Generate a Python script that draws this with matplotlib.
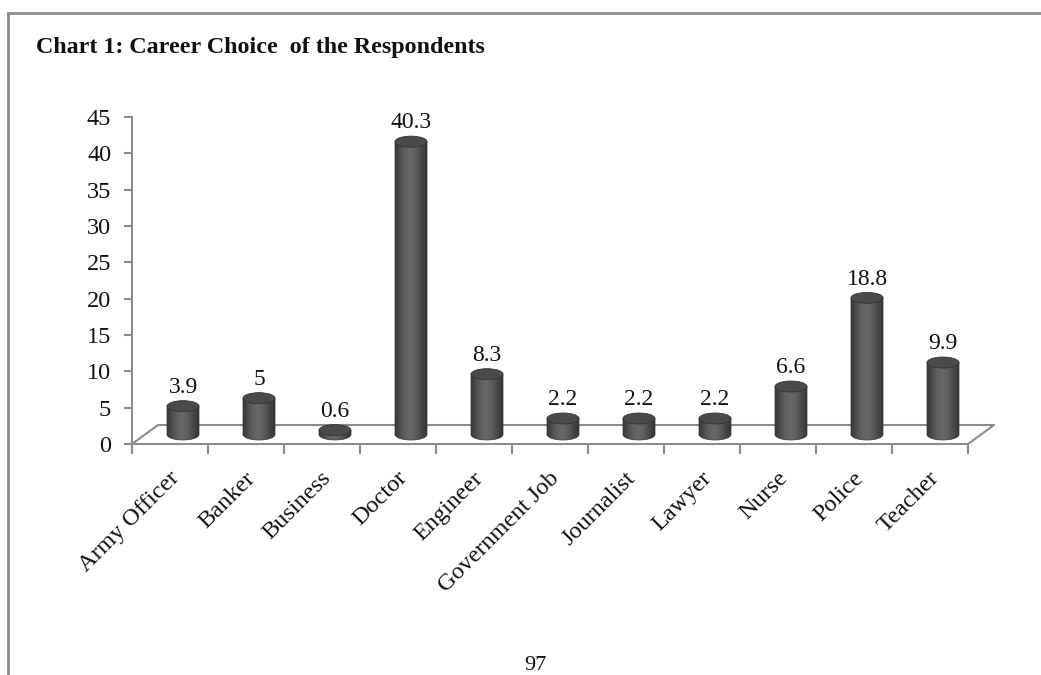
import matplotlib
matplotlib.use("Agg")
import matplotlib.pyplot as plt
import numpy as np
from matplotlib.patches import Ellipse, PathPatch
from matplotlib.path import Path

categories = ["Army Officer", "Banker", "Business", "Doctor", "Engineer",
              "Government Job", "Journalist", "Lawyer", "Nurse", "Police", "Teacher"]
values = [3.9, 5, 0.6, 40.3, 8.3, 2.2, 2.2, 2.2, 6.6, 18.8, 9.9]
value_labels = ["3.9", "5", "0.6", "40.3", "8.3", "2.2", "2.2", "2.2", "6.6", "18.8", "9.9"]
yticks = [0, 5, 10, 15, 20, 25, 30, 35, 40, 45]
title = "Chart 1: Career Choice  of the Respondents"
page_number = "97"

W, H = 1041, 675
fig = plt.figure(figsize=(W / 100, H / 100), dpi=100)
fig.patch.set_facecolor("white")

serif = ["Liberation Serif", "DejaVu Serif"]

# axes placement in pixels
x0, x1 = 132, 968
y0, y1 = 444, 117
ax = fig.add_axes([x0 / W, (H - y0) / H, (x1 - x0) / W, (y0 - y1) / H])
n = len(categories)
ax.set_xlim(0, n)
ax.set_ylim(0, 45)
for s in ax.spines.values():
    s.set_visible(False)
ax.patch.set_alpha(0)

px_x = n / (x1 - x0)       # data units per pixel (x)
px_y = 45 / (y0 - y1)      # data units per pixel (y)
depth_dx = 26 * px_x
depth_dy = 19 * px_y

axis_col = "#8c8c8c"
# value axis
ax.plot([0, 0], [0, 45], color=axis_col, lw=1.5, clip_on=False, zorder=1)
ax.set_yticks(yticks)
ax.set_yticklabels([str(t) for t in yticks], fontsize=17.5, family=serif, color="#111111")
ax.tick_params(axis="y", direction="out", length=6, color=axis_col, width=1.5, pad=9)
# floor
floor_x = [0, depth_dx, n + depth_dx, n, 0]
floor_y = [0, depth_dy, depth_dy, 0, 0]
ax.plot(floor_x, floor_y, color=axis_col, lw=1.5, clip_on=False, zorder=1)
ax.set_xticks(np.arange(n + 1))
ax.set_xticklabels([])
ax.tick_params(axis="x", direction="out", length=7, color=axis_col, width=1.5)

# cylinders
bw = 32 * px_x
eh = 11 * px_y
cmap = matplotlib.colors.LinearSegmentedColormap.from_list(
    "cyl", ["#373737", "#4f4f4f", "#626262", "#686868", "#5c5c5c", "#474747", "#353535"])
grad = np.linspace(0, 1, 64).reshape(1, -1)
for i, v in enumerate(values):
    cx = i + 0.5 + depth_dx / 2
    base = depth_dy / 2
    top = base + v
    left, right = cx - bw / 2, cx + bw / 2
    t = np.linspace(np.pi, 2 * np.pi, 40)
    bx = cx + (bw / 2) * np.cos(t)
    by = base + (eh / 2) * np.sin(t)
    verts = [(left, top)] + list(zip(bx, by)) + [(right, top), (left, top)]
    codes = [Path.MOVETO] + [Path.LINETO] * (len(verts) - 2) + [Path.CLOSEPOLY]
    body = PathPatch(Path(verts, codes), facecolor="none", edgecolor="none", zorder=3)
    ax.add_patch(body)
    im = ax.imshow(grad, cmap=cmap, extent=[left, right, base - eh, top],
                   aspect="auto", zorder=3, interpolation="bilinear")
    im.set_clip_path(body)
    ax.add_patch(PathPatch(Path(verts, codes), facecolor="none",
                           edgecolor="#333333", lw=0.5, zorder=3.5))
    ax.add_patch(Ellipse((cx, top), bw, eh, angle=0, facecolor="#4a4a4a",
                         edgecolor="#333333", lw=0.6, zorder=4))
    ax.annotate(value_labels[i], (cx, top), xytext=(0, 6), textcoords="offset points",
                ha="center", va="bottom", fontsize=17, family=serif, color="#111111",
                zorder=5)
ax.set_xlim(0, n)
ax.set_ylim(0, 45)

# category labels
for i, c in enumerate(categories):
    ax.annotate(c, (i + 0.5, 0), xytext=(-1, -17), textcoords="offset points",
                ha="right", va="top", rotation=45, rotation_mode="anchor",
                fontsize=17.5, family=serif, color="#111111", annotation_clip=False)

# chart border (left and top)
fig.add_artist(plt.Line2D([8 / W, 8 / W], [0, 1 - 13 / H], color="#8a8a8a", lw=2,
                          transform=fig.transFigure))
fig.add_artist(plt.Line2D([8 / W, 1], [1 - 13 / H, 1 - 13 / H], color="#8a8a8a", lw=2,
                          transform=fig.transFigure))

fig.text(36 / W, 1 - 47 / H, title, fontsize=17.3, fontweight="bold", family=serif,
         ha="left", va="center", color="#111111")
fig.text(535 / W, 1 - 666 / H, page_number, fontsize=16, family=serif,
         ha="center", va="center", color="#111111")

fig.savefig("out.png", dpi=100, facecolor="white")
